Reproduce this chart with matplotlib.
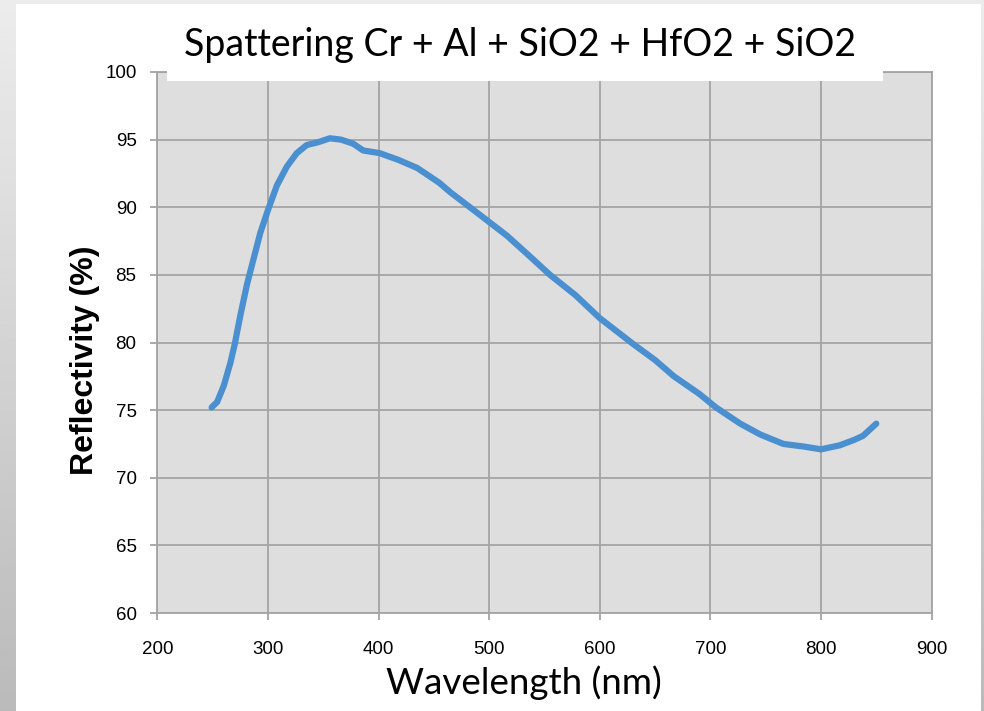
import matplotlib
matplotlib.use("Agg")
import matplotlib.pyplot as plt
import numpy as np
from matplotlib.patches import Rectangle

# Reflectivity curve
wavelength = [249, 254, 260, 266, 270, 275, 281, 287, 293, 300, 308, 317, 326,
              335, 345, 356, 366, 377, 386, 401, 418, 435, 455, 465, 489, 516,
              535, 555, 578, 600, 630, 650, 667, 690, 705, 727, 745, 766, 785,
              800, 817, 830, 838, 850]
reflectivity = [75.2, 75.6, 76.8, 78.5, 79.9, 82.0, 84.3, 86.2, 88.1, 89.8, 91.6,
                93.0, 94.0, 94.6, 94.8, 95.1, 95.0, 94.7, 94.2, 94.0, 93.5, 92.9,
                91.8, 91.1, 89.6, 87.9, 86.5, 85.0, 83.5, 81.8, 79.9, 78.7, 77.5,
                76.2, 75.2, 74.0, 73.2, 72.5, 72.3, 72.1, 72.4, 72.8, 73.1, 74.0]

x_ticks = [200, 300, 400, 500, 600, 700, 800, 900]
y_ticks = [60, 65, 70, 75, 80, 85, 90, 95, 100]

W, H = 984, 711
fig = plt.figure(figsize=(W / 100, H / 100), dpi=100)

# gray gradient background + white slide panel
bg = fig.add_axes([0, 0, 1, 1], zorder=-10)
grad = np.linspace(0.925, 0.73, 256).reshape(-1, 1)
bg.imshow(grad, cmap="gray", vmin=0, vmax=1, aspect="auto", extent=[0, 1, 0, 1])
bg.add_patch(Rectangle((16 / W, 0), (981 - 16) / W, (H - 4) / H,
                       facecolor="white", edgecolor="none"))
bg.set_xlim(0, 1)
bg.set_ylim(0, 1)
bg.axis("off")

# plot area
ax = fig.add_axes([157.4 / W, (H - 613) / H, 774.2 / W, 541 / H])
ax.set_facecolor("#dedede")
ax.plot(wavelength, reflectivity, color="#4a8fd0", lw=4.5, solid_capstyle="round")
ax.set_xlim(200, 900)
ax.set_ylim(60, 100)
ax.set_xticks(x_ticks)
ax.set_yticks(y_ticks)
ax.grid(True, color="#a4a4a4", lw=1.3)
ax.set_axisbelow(True)
for s in ax.spines.values():
    s.set_color("#a4a4a4")
    s.set_linewidth(1.3)
ax.tick_params(axis="y", direction="out", length=5, width=1.3, color="#a4a4a4",
               pad=10, labelsize=13.5)
ax.tick_params(axis="x", direction="out", length=5, width=1.3, color="#a4a4a4",
               pad=15, labelsize=13.5)
for lbl in ax.get_xticklabels() + ax.get_yticklabels():
    lbl.set_fontfamily("Liberation Sans")

fig.text(85 / W, 1 - 360 / H, "Reflectivity (%)", rotation=90, ha="center",
         va="center", fontsize=23, fontweight="bold", family="Liberation Sans")
fig.text(524 / W, 1 - 683 / H, "Wavelength (nm)", ha="center", va="center",
         fontsize=26.5, family="Lato")

# white title box overlapping the plot top
fig.patches.append(Rectangle((167 / W, 1 - 81 / H), (883 - 167) / W, 77 / H,
                             transform=fig.transFigure, facecolor="white",
                             edgecolor="none", zorder=5))
fig.text(520 / W, 1 - 45 / H, "Spattering Cr + Al + SiO2 + HfO2 + SiO2",
         ha="center", va="center", fontsize=27, family="Lato", zorder=6)

fig.savefig("out.png", dpi=100)
